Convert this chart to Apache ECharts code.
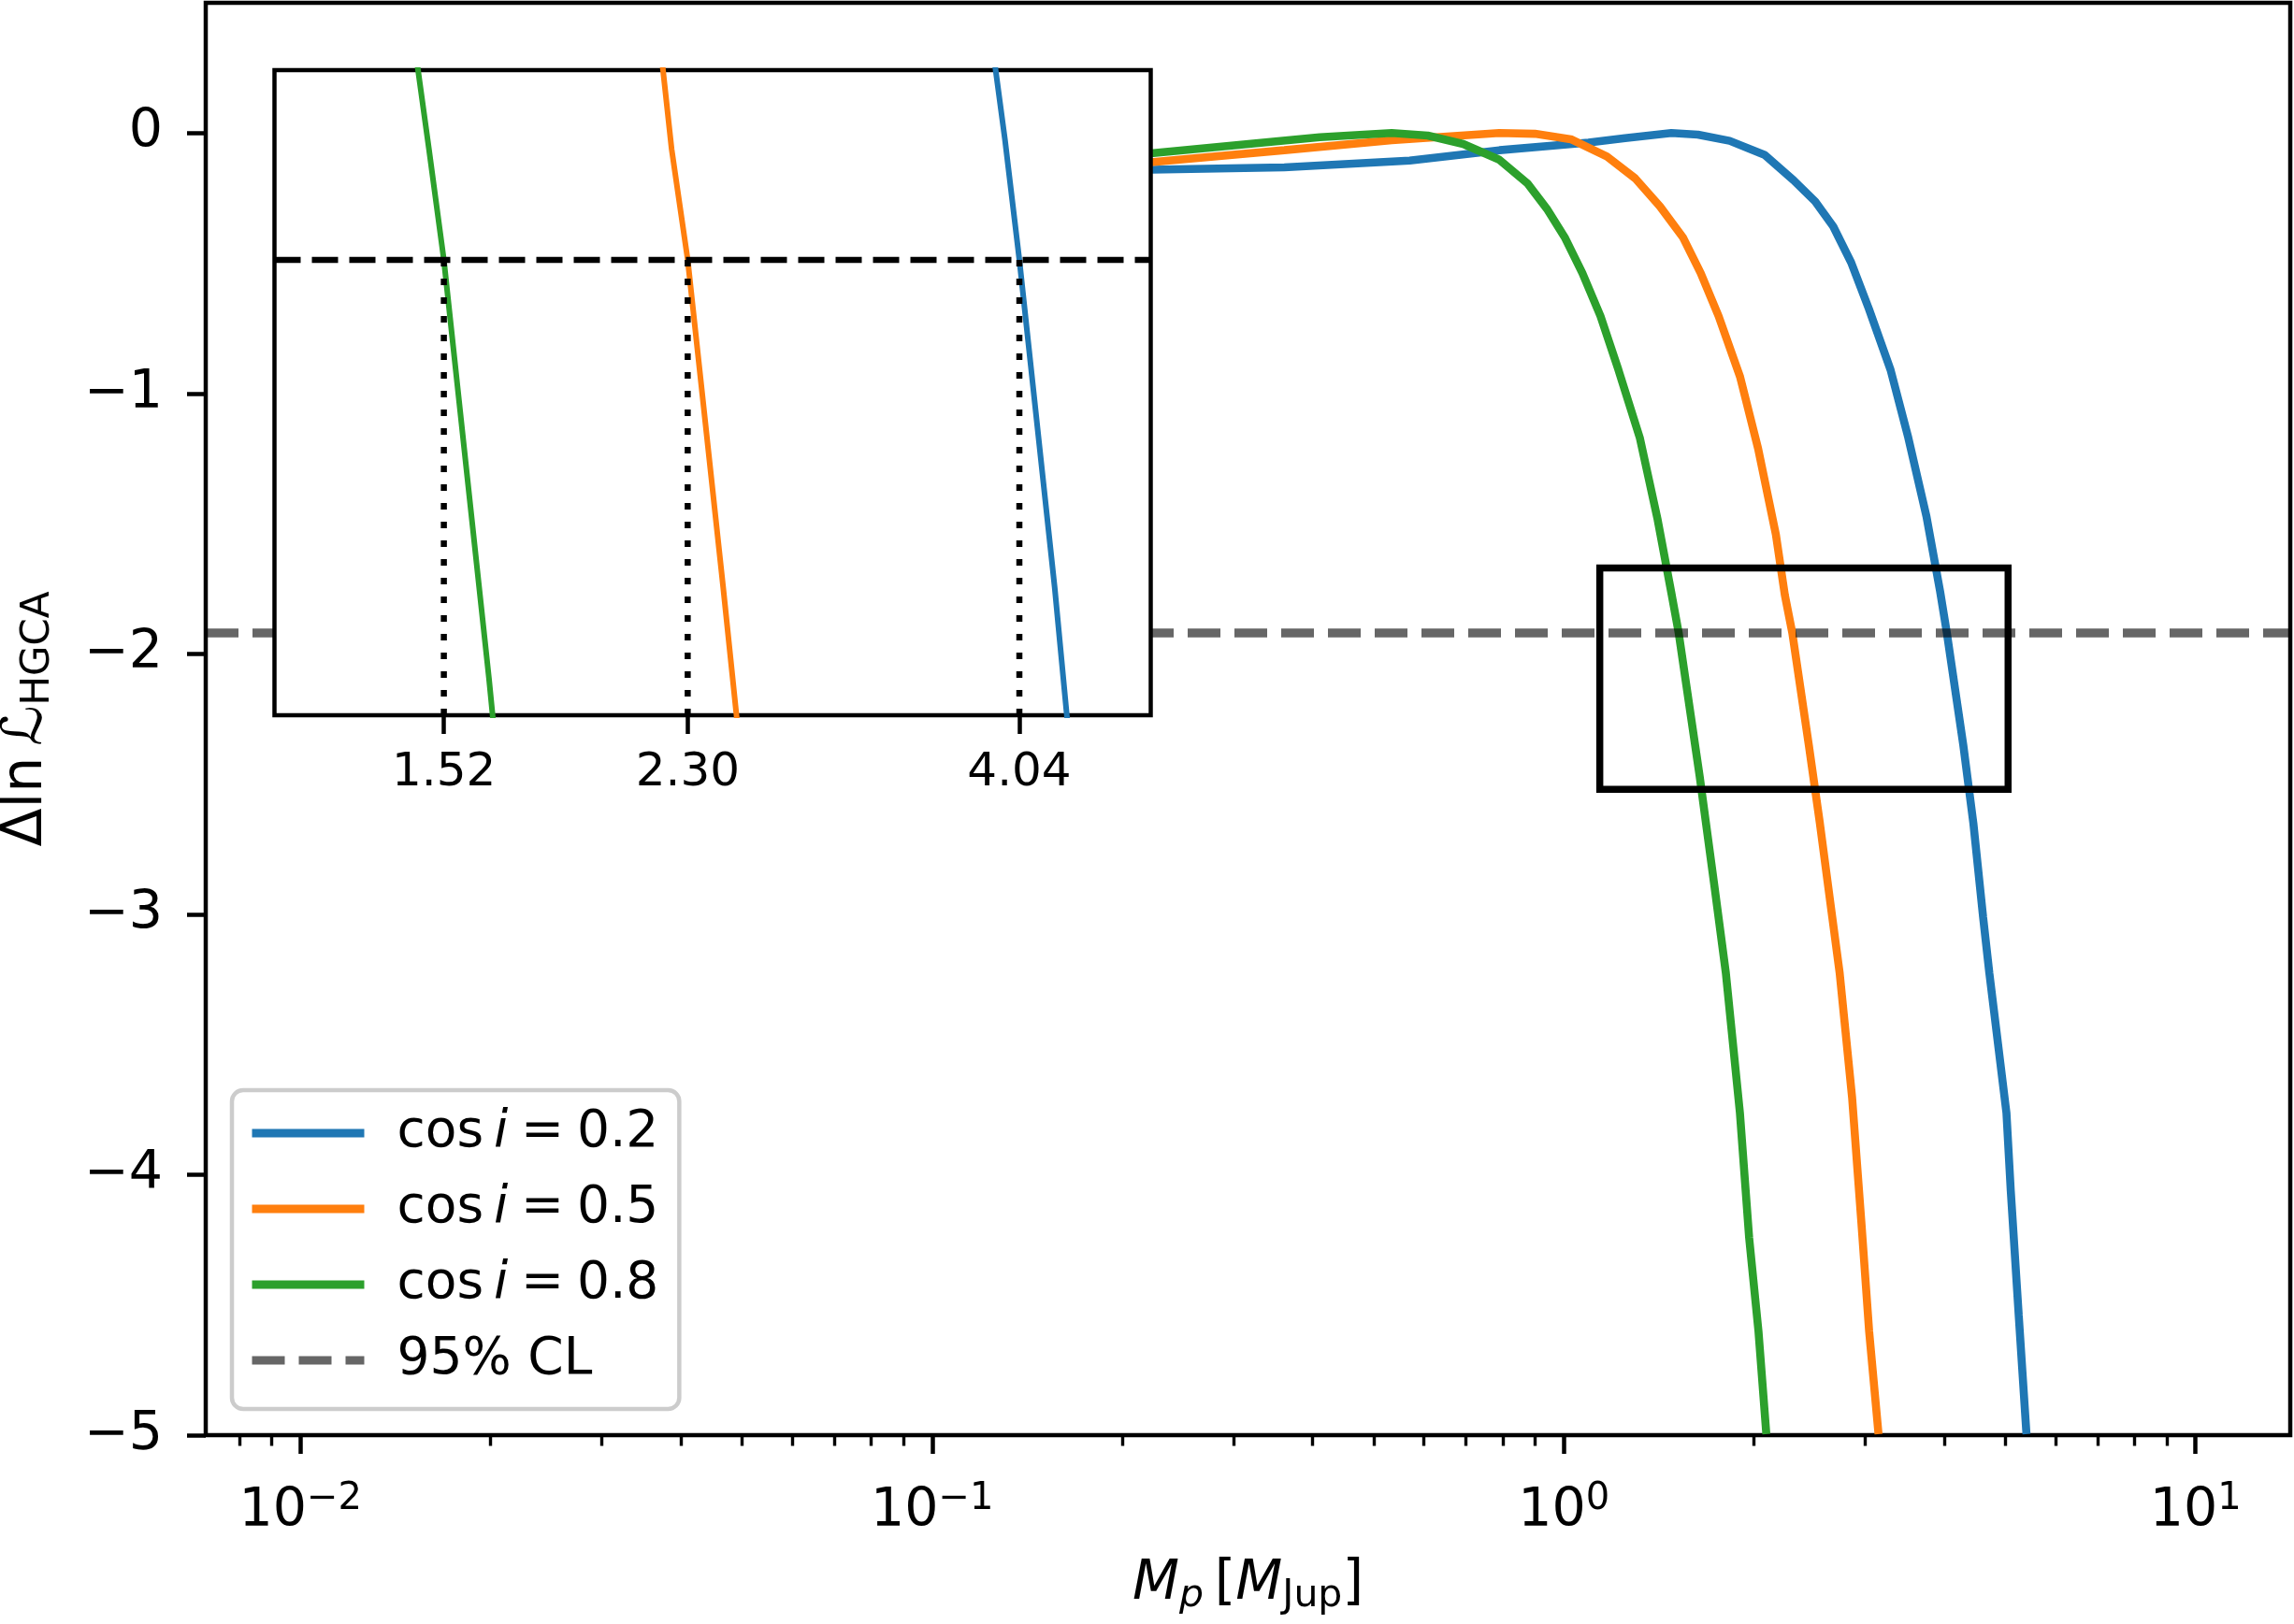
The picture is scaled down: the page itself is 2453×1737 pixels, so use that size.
<!DOCTYPE html>
<html>
<head>
<meta charset="utf-8">
<script src="https://cdn.jsdelivr.net/npm/echarts@6/dist/echarts.min.js"></script>
<style>
html, body { margin: 0; padding: 0; background: #ffffff; }
#chart { width: 2453px; height: 1737px; }
</style>
</head>
<body>
<div id="chart"></div>
<script>
// ---------------- data ----------------
const massCos02 = [0.222, 0.361, 0.570, 0.791, 1.094, 1.25, 1.48, 1.63, 1.83, 2.08, 2.31, 2.50, 2.67, 2.85, 3.04, 3.29, 3.51, 3.75, 3.942, 4.04, 4.29, 4.45, 4.61, 4.716, 4.796, 5.02, 5.10, 5.25, 5.40];
const dlnLCos02 = [-0.141, -0.132, -0.106, -0.066, -0.037, -0.020, 0.000, -0.006, -0.030, -0.084, -0.181, -0.263, -0.359, -0.497, -0.675, -0.909, -1.170, -1.472, -1.761, -1.920, -2.352, -2.651, -3.010, -3.225, -3.369, -3.763, -4.063, -4.541, -4.996];

const massCos05 = [0.222, 0.361, 0.534, 0.79, 0.90, 1.026, 1.17, 1.297, 1.42, 1.543, 1.647, 1.758, 1.901, 2.03, 2.166, 2.238, 2.30, 2.443, 2.543, 2.66, 2.733, 2.86, 2.958, 3.043, 3.149];
const dlnLCos05 = [-0.112, -0.066, -0.028, 0.000, -0.003, -0.024, -0.090, -0.174, -0.282, -0.400, -0.538, -0.703, -0.936, -1.211, -1.541, -1.774, -1.920, -2.352, -2.651, -3.010, -3.225, -3.704, -4.182, -4.601, -4.996];

const massCos08 = [0.222, 0.317, 0.411, 0.534, 0.609, 0.693, 0.79, 0.877, 0.94, 1.003, 1.07, 1.143, 1.22, 1.319, 1.408, 1.482, 1.52, 1.641, 1.731, 1.805, 1.90, 1.965, 2.033, 2.092];
const dlnLCos08 = [-0.078, -0.042, -0.016, 0.000, -0.010, -0.042, -0.102, -0.195, -0.291, -0.400, -0.538, -0.703, -0.909, -1.170, -1.486, -1.774, -1.920, -2.471, -2.890, -3.225, -3.763, -4.242, -4.601, -4.996];

const seriesNames = ['cos i = 0.2', 'cos i = 0.5', 'cos i = 0.8'];
const clName = '95% CL';
const cl95 = -1.92;

const xRange = [0.00708, 14.125];
const yRange = [-5, 0.5];
const xMajorTicks = [0.01, 0.1, 1, 10];
const xMinorTicks = [0.008, 0.009, 0.02, 0.03, 0.04, 0.05, 0.06, 0.07, 0.08, 0.09,
                     0.2, 0.3, 0.4, 0.5, 0.6, 0.7, 0.8, 0.9,
                     2, 3, 4, 5, 6, 7, 8, 9];
const yTicks = [-5, -4, -3, -2, -1, 0];

const insetXRange = [1.14, 5.05];
const insetYRange = [-2.52, -1.67];
const crossingMasses = [1.52, 2.30, 4.04];

// ---------------- styles ----------------
const FONT = 'DejaVu Sans';
const COLORS = ['#1f77b4', '#ff7f0e', '#2ca02c'];
const curveData = [
  [massCos02, dlnLCos02],
  [massCos05, dlnLCos05],
  [massCos08, dlnLCos08]
];
const toPairs = (xs, ys) => xs.map((x, i) => [x, ys[i]]);
const minus = (s) => String(s).replace('-', '\u2212');

const chart = echarts.init(document.getElementById('chart'), null, { renderer: 'canvas' });

const mainCurves = curveData.map((d, k) => ({
  type: 'line', name: seriesNames[k], xAxisIndex: 0, yAxisIndex: 0,
  data: toPairs(d[0], d[1]), symbol: 'none', showSymbol: false, smooth: false,
  lineStyle: { color: COLORS[k], width: 8.6 }, itemStyle: { color: COLORS[k] },
  z: 2, silent: true
}));

const insetCurves = curveData.map((d, k) => ({
  type: 'line', name: 'inset ' + seriesNames[k], xAxisIndex: 2, yAxisIndex: 1,
  data: toPairs(d[0], d[1]), symbol: 'none', showSymbol: false, smooth: false,
  lineStyle: { color: COLORS[k], width: 6 }, itemStyle: { color: COLORS[k] },
  z: 12, silent: true
}));

const dottedLines = crossingMasses.map((m, k) => ({
  type: 'line', name: 'crossing ' + k, xAxisIndex: 2, yAxisIndex: 1,
  data: [[m, cl95], [m, insetYRange[0]]], symbol: 'none', showSymbol: false,
  lineStyle: { color: '#000', width: 6.5, type: [7, 13] }, z: 12, silent: true
}));

const zoomBox = [
  [insetXRange[0], insetYRange[1]], [insetXRange[1], insetYRange[1]],
  [insetXRange[1], insetYRange[0]], [insetXRange[0], insetYRange[0]],
  [insetXRange[0], insetYRange[1]]
];

const legendRich = {
  it: { fontFamily: FONT, fontStyle: 'italic', fontSize: 55, lineHeight: 64, color: '#000' }
};

const option = {
  animation: false,
  backgroundColor: '#ffffff',
  grid: [
    { left: 220, right: 4, top: 3, bottom: 202, show: true, borderColor: '#000', borderWidth: 4.5,
      backgroundColor: 'rgba(0,0,0,0)', z: 0, containLabel: false, outerBoundsMode: 'none' },
    { left: 293.5, right: 1222.5, top: 75, bottom: 972, show: true, borderColor: '#000', borderWidth: 4.5,
      backgroundColor: '#ffffff', z: 10, containLabel: false, outerBoundsMode: 'none' }
  ],
  xAxis: [
    {
      gridIndex: 0, type: 'log', logBase: 10, min: xRange[0], max: xRange[1], position: 'bottom', z: 1,
      axisLine: { show: false, onZero: false },
      axisTick: { show: true, inside: false, length: 20, customValues: xMajorTicks,
                  lineStyle: { color: '#000', width: 4.5 } },
      axisLabel: {
        show: true, customValues: xMajorTicks, margin: 49, color: '#000',
        fontFamily: FONT, fontSize: 57, lineHeight: 66,
        formatter: (v) => '10{sup|' + minus(Math.round(Math.log10(v))) + '}',
        rich: { sup: { fontFamily: FONT, fontSize: 40, lineHeight: 40, verticalAlign: 'top', color: '#000' } }
      },
      splitLine: { show: false }, minorTick: { show: false }, minorSplitLine: { show: false },
      name: '{it|M}{subit|p}\u2009[{it|M}{sub|Jup}]',
      nameLocation: 'middle', nameGap: 127,
      nameTextStyle: {
        fontFamily: FONT, fontSize: 58, lineHeight: 66, color: '#000',
        rich: {
          it: { fontFamily: FONT, fontStyle: 'italic', fontSize: 58, lineHeight: 66, color: '#000' },
          subit: { fontFamily: FONT, fontStyle: 'italic', fontSize: 41, lineHeight: 40, verticalAlign: 'bottom', color: '#000' },
          sub: { fontFamily: FONT, fontSize: 41, lineHeight: 40, verticalAlign: 'bottom', color: '#000' }
        }
      }
    },
    {
      gridIndex: 0, type: 'log', logBase: 10, min: xRange[0], max: xRange[1], position: 'bottom', offset: 0, z: 1,
      axisLine: { show: false, onZero: false },
      axisTick: { show: true, inside: false, length: 11.5, customValues: xMinorTicks,
                  lineStyle: { color: '#000', width: 3.4 } },
      axisLabel: { show: false },
      splitLine: { show: false }, minorTick: { show: false }
    },
    {
      gridIndex: 1, type: 'log', logBase: 10, min: insetXRange[0], max: insetXRange[1], position: 'bottom', z: 11,
      axisLine: { show: false, onZero: false },
      axisTick: { show: true, inside: false, length: 20, customValues: crossingMasses,
                  lineStyle: { color: '#000', width: 4.5 } },
      axisLabel: { show: true, customValues: crossingMasses, margin: 37, color: '#000',
                   fontFamily: FONT, fontSize: 50, formatter: (v) => Number(v).toFixed(2) },
      splitLine: { show: false }, minorTick: { show: false }
    }
  ],
  yAxis: [
    {
      gridIndex: 0, type: 'value', min: yRange[0], max: yRange[1], position: 'left', z: 1,
      axisLine: { show: false, onZero: false },
      axisTick: { show: true, inside: false, length: 20, customValues: yTicks,
                  lineStyle: { color: '#000', width: 4.5 } },
      axisLabel: { show: true, customValues: yTicks, margin: 46, color: '#000',
                   fontFamily: FONT, fontSize: 57, formatter: (v) => minus(v) },
      splitLine: { show: false },
      name: 'Δln\u2009ℒ{sub|HGCA}',
      nameLocation: 'middle', nameRotate: 90, nameGap: 158,
      nameTextStyle: {
        fontFamily: FONT, fontSize: 60, lineHeight: 68, color: '#000',
        rich: { sub: { fontFamily: FONT, fontSize: 42, lineHeight: 42, verticalAlign: 'bottom', color: '#000' } }
      }
    },
    {
      gridIndex: 1, type: 'value', min: insetYRange[0], max: insetYRange[1], position: 'left', z: 11,
      axisLine: { show: false, onZero: false }, axisTick: { show: false }, axisLabel: { show: false }, splitLine: { show: false }
    }
  ],
  legend: {
    data: seriesNames.concat([clName]),
    orient: 'vertical', left: 248, top: 1166,
    itemWidth: 120, itemHeight: 14, itemGap: 17,
    padding: [14, 22, 20, 17],
    backgroundColor: 'rgba(255,255,255,0.8)', borderColor: '#cccccc', borderWidth: 4.5, borderRadius: 12,
    selectedMode: false,
    lineStyle: { width: 9 },
    itemStyle: { opacity: 0 },
    textStyle: { fontFamily: FONT, fontSize: 55, lineHeight: 64, color: '#000', padding: [0, 0, 0, 30], rich: legendRich },
    formatter: (name) => name.indexOf('cos i') === 0 ? 'cos\u2009{it|i}\u2005=\u2005' + name.split('= ')[1] : name,
    z: 20
  },
  series: [
    ...mainCurves,
    {
      type: 'line', name: clName, xAxisIndex: 0, yAxisIndex: 0,
      data: [[xRange[0], cl95], [xRange[1], cl95]], symbol: 'none', showSymbol: false,
      lineStyle: { color: 'rgba(0,0,0,0.6)', width: 9.5, type: [35, 15] },
      itemStyle: { color: 'rgba(0,0,0,0.6)' }, z: 3, silent: true
    },
    {
      type: 'line', name: 'zoom box', xAxisIndex: 0, yAxisIndex: 0,
      data: zoomBox, symbol: 'none', showSymbol: false,
      lineStyle: { color: '#000', width: 7.5, join: 'miter', cap: 'square' }, z: 4, silent: true
    },
    ...insetCurves,
    {
      type: 'line', name: 'inset CL', xAxisIndex: 2, yAxisIndex: 1,
      data: [[insetXRange[0], cl95], [insetXRange[1], cl95]], symbol: 'none', showSymbol: false,
      lineStyle: { color: '#000', width: 6.5, type: [28, 12] }, z: 12, silent: true
    },
    ...dottedLines
  ]
};

chart.setOption(option);
</script>
</body>
</html>
